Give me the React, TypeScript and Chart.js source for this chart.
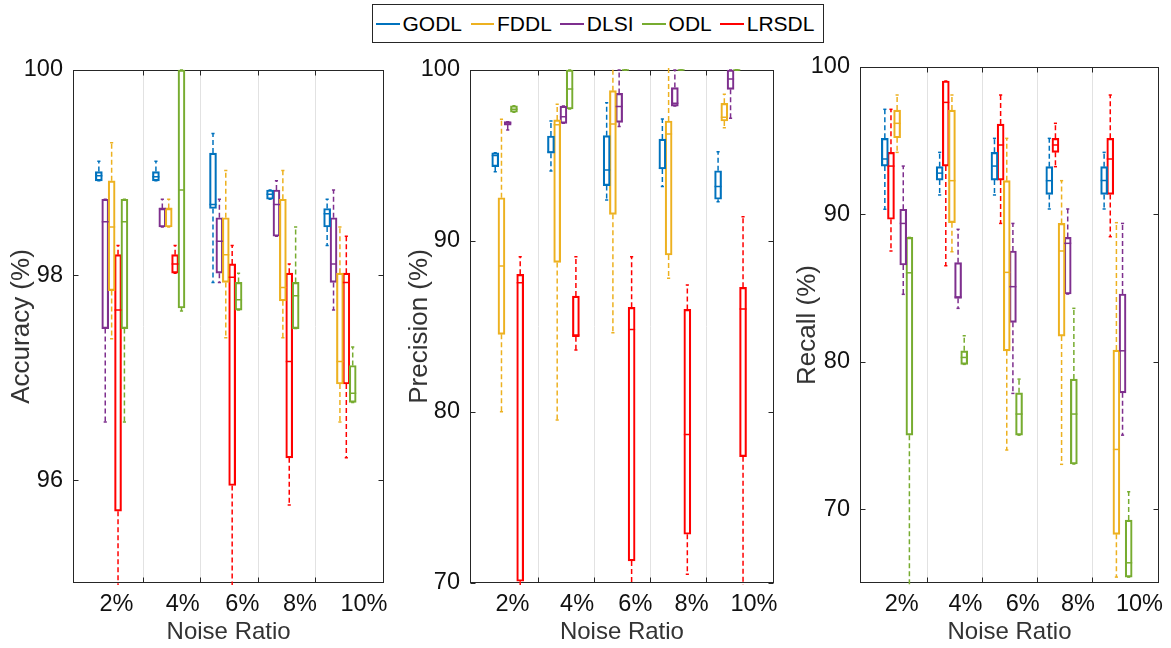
import React, { useEffect, useRef } from 'react';
import { Chart, registerables } from 'chart.js';

Chart.register(...registerables);

const FONT = '"Liberation Sans", Arial, Helvetica, sans-serif';

const methods = ['GODL', 'FDDL', 'DLSI', 'ODL', 'LRSDL'];
const colors = ['#0072BD', '#EDB120', '#7E2F8E', '#77AC30', '#FF0000'];
const noiseLabels = ['2%', '4%', '6%', '8%', '10%'];
const groupPositions = [1, 2, 3, 4, 5];
const labelPositions = [1.085, 2.245, 3.29, 4.3, 5.42];
const separatorPositions = [1.549, 2.553, 3.557, 4.555];
const xMin = 0.323;
const xMax = 5.777;
const slotStep = 0.112;

// each entry: [lower whisker, q1, median, q3, upper whisker]
const accGODL = [[98.92, 98.92, 98.97, 99.01, 99.11], [98.92, 98.92, 98.96, 99.01, 99.11], [97.93, 98.65, 98.69, 99.19, 99.38], [98.74, 98.74, 98.79, 98.83, 98.83], [98.29, 98.47, 98.6, 98.65, 98.74]];
const accFDDL = [[97.38, 97.85, 98.47, 98.92, 99.29], [98.47, 98.47, 98.65, 98.65, 98.74], [97.39, 97.93, 98.2, 98.56, 99.02], [97.39, 97.75, 97.88, 98.74, 99.02], [96.57, 96.94, 97.16, 98.02, 98.47]];
const accDLSI = [[96.57, 97.48, 98.52, 98.74, 98.74], [98.47, 98.47, 98.65, 98.65, 98.74], [97.93, 98.02, 98.33, 98.56, 98.74], [98.38, 98.38, 98.69, 98.83, 98.92], [97.66, 97.93, 98.11, 98.56, 98.83]];
const accODL = [[96.57, 97.48, 98.52, 98.74, 98.74], [97.65, 97.68, 98.83, 100, 100], [97.66, 97.66, 97.76, 97.93, 98.02], [97.48, 97.48, 97.8, 97.93, 98.47], [96.76, 96.76, 96.85, 97.12, 97.3]];
const accLRSDL = [[94.0, 95.7, 97.66, 98.2, 98.29], [98.02, 98.02, 98.11, 98.2, 98.29], [94.0, 95.95, 97.98, 98.11, 98.29], [95.76, 96.22, 97.16, 98.02, 98.11], [96.22, 96.94, 97.93, 98.02, 98.38]];

const preGODL = [[94.05, 94.35, 95.0, 95.16, 95.16], [94.09, 95.13, 95.2, 96.14, 97.02], [92.4, 93.24, 94.15, 96.16, 98.09], [93.18, 94.21, 94.25, 95.96, 97.13], [92.3, 92.44, 93.18, 94.11, 95.22]];
const preFDDL = [[80.02, 84.54, 88.54, 92.53, 97.12], [79.53, 88.75, 96.8, 97.08, 97.99], [84.64, 91.56, 96.84, 98.79, 101], [87.82, 89.18, 96.26, 97.02, 101], [96.63, 97.02, 97.23, 98.05, 98.58]];
const preDLSI = [[96.49, 96.78, 96.9, 96.98, 96.98], [96.88, 96.88, 97.27, 97.89, 97.89], [96.69, 96.94, 97.86, 98.63, 100], [97.89, 97.89, 98.05, 98.97, 100], [97.18, 98.87, 99.47, 100, 100]];
const preODL = [[97.53, 97.53, 97.7, 97.91, 97.91], [97.72, 97.72, 98.89, 100, 100], [100, 100, 100, 100, 100], [100, 100, 100, 100, 100], [100, 100, 100, 100, 100]];
const preLRSDL = [[65, 70.1, 87.56, 88.05, 89.08], [83.63, 84.4, 84.5, 86.78, 89.08], [65, 71.29, 84.83, 86.12, 89.08], [70.51, 72.85, 78.69, 86.0, 87.43], [65, 77.39, 86.02, 87.29, 91.42]];

const recGODL = [[90.35, 93.28, 93.76, 95.16, 97.13], [91.32, 92.33, 92.8, 93.24, 94.21], [91.32, 92.33, 93.28, 94.21, 95.16], [90.37, 91.36, 92.29, 93.24, 95.16], [90.37, 91.36, 92.3, 93.24, 94.21]];
const recFDDL = [[94.21, 95.2, 96.18, 97.08, 98.1], [87.47, 89.44, 92.29, 97.08, 98.1], [74.02, 80.75, 86.07, 92.29, 95.16], [73.05, 81.75, 87.52, 89.39, 92.29], [65.4, 68.3, 74.06, 80.8, 89.44]];
const recDLSI = [[84.58, 86.57, 89.39, 90.35, 93.28], [83.63, 84.31, 84.4, 86.73, 88.99], [77.86, 82.68, 85.1, 87.52, 89.39], [84.6, 84.6, 88.04, 88.44, 90.37], [75.03, 77.9, 80.75, 84.6, 89.39]];
const recODL = [[60, 75.03, 86.04, 88.44, 88.44], [79.83, 79.83, 80.3, 80.75, 81.77], [75.03, 75.03, 76.46, 77.9, 78.83], [73.07, 73.07, 76.46, 78.83, 83.63], [65.4, 65.4, 66.37, 69.27, 71.19]];
const recLRSDL = [[87.52, 89.67, 93.28, 94.21, 97.13], [86.52, 93.28, 97.6, 99.05, 99.05], [89.39, 92.33, 94.71, 96.13, 98.1], [93.24, 94.21, 94.71, 95.16, 96.18], [88.49, 91.36, 93.76, 95.16, 98.1]];

// slot order of methods inside a group (GODL, FDDL, DLSI, ODL, LRSDL)
const accSlots = [-2, 0, -1, 2, 1];
const preSlots = [-2, -1, 0, 1, 2];
const recSlots = [-2, 0, 1, 2, -1];

const accTicks = [96, 98, 100];
const preTicks = [70, 80, 90, 100];
const recTicks = [70, 80, 90, 100];

type Panel = {
  left: number; width: number; top: number; yWidth: number; right: number;
  yMin: number; yMax: number; yTicks: number[]; title: string; titlePad: number;
  stats: number[][][]; slots: number[];
};

const panels: Panel[] = [
  { left: 0, width: 395, top: 70, yWidth: 73, right: 9, yMin: 95, yMax: 100, yTicks: accTicks, title: 'Accuracy (%)', titlePad: 6.4, stats: [accGODL, accFDDL, accDLSI, accODL, accLRSDL], slots: accSlots },
  { left: 395, width: 390, top: 70, yWidth: 75, right: 8, yMin: 70, yMax: 100, yTicks: preTicks, title: 'Precision (%)', titlePad: 9.4, stats: [preGODL, preFDDL, preDLSI, preODL, preLRSDL], slots: preSlots },
  { left: 785, width: 386, top: 67, yWidth: 75, right: 12, yMin: 65, yMax: 100, yTicks: recTicks, title: 'Recall (%)', titlePad: 7.4, stats: [recGODL, recFDDL, recDLSI, recODL, recLRSDL], slots: recSlots },
];

const decorPlugin = {
  id: 'boxDecor',
  beforeDatasetsDraw(chart: any) {
    const { ctx, chartArea: a, scales } = chart;
    const x = scales.x, y = scales.y;
    ctx.save();
    // separators
    ctx.strokeStyle = '#E2E2E2';
    ctx.lineWidth = 1;
    separatorPositions.forEach((v) => {
      const px = Math.round(x.getPixelForValue(v)) + 0.5;
      ctx.beginPath(); ctx.moveTo(px, a.top); ctx.lineTo(px, a.bottom); ctx.stroke();
    });
    // frame
    ctx.strokeStyle = '#262626';
    const l = Math.round(a.left) + 0.5, r = Math.round(a.right) - 0.5;
    const t = Math.round(a.top) + 0.5, b = Math.round(a.bottom) - 0.5;
    ctx.strokeRect(l, t, r - l, b - t);
    // x ticks (inward, top and bottom)
    const tl = 5;
    separatorPositions.forEach((v) => {
      const px = Math.round(x.getPixelForValue(v)) + 0.5;
      ctx.beginPath(); ctx.moveTo(px, b); ctx.lineTo(px, b - tl); ctx.stroke();
      ctx.beginPath(); ctx.moveTo(px, t); ctx.lineTo(px, t + tl); ctx.stroke();
    });
    // y ticks (inward, left and right)
    chart.options.scales.y._ticks.forEach((v: number) => {
      const py = Math.round(y.getPixelForValue(v)) + 0.5;
      ctx.beginPath(); ctx.moveTo(l, py); ctx.lineTo(l + tl, py); ctx.stroke();
      ctx.beginPath(); ctx.moveTo(r, py); ctx.lineTo(r - tl, py); ctx.stroke();
    });
    ctx.restore();
  },
  afterDatasetsDraw(chart: any) {
    const { ctx, chartArea: a, scales } = chart;
    const y = scales.y;
    ctx.save();
    ctx.beginPath();
    ctx.rect(a.left - 2, a.top - 2, a.right - a.left + 4, a.bottom - a.top + 4);
    ctx.clip();
    chart.data.datasets.forEach((ds: any, i: number) => {
      const meta = chart.getDatasetMeta(i);
      ctx.strokeStyle = ds.borderColor;
      ctx.lineWidth = 1.5;
      meta.data.forEach((el: any, j: number) => {
        const s = ds.stats[j];
        const cx = el.x;
        const half = el.width / 2;
        const pLow = y.getPixelForValue(s[0]);
        const pQ1 = y.getPixelForValue(s[1]);
        const pMed = y.getPixelForValue(s[2]);
        const pQ3 = y.getPixelForValue(s[3]);
        const pHigh = y.getPixelForValue(s[4]);
        // median
        ctx.setLineDash([]);
        ctx.beginPath(); ctx.moveTo(cx - half, pMed); ctx.lineTo(cx + half, pMed); ctx.stroke();
        // whiskers
        ctx.setLineDash([5, 3]);
        if (pHigh < pQ3 - 0.5) {
          ctx.beginPath(); ctx.moveTo(cx, pQ3); ctx.lineTo(cx, pHigh); ctx.stroke();
        }
        if (pLow > pQ1 + 0.5) {
          ctx.beginPath(); ctx.moveTo(cx, pQ1); ctx.lineTo(cx, pLow); ctx.stroke();
        }
        ctx.setLineDash([]);
        const cap = half * 0.45;
        ctx.beginPath(); ctx.moveTo(cx - cap, pHigh); ctx.lineTo(cx + cap, pHigh); ctx.stroke();
        ctx.beginPath(); ctx.moveTo(cx - cap, pLow); ctx.lineTo(cx + cap, pLow); ctx.stroke();
      });
    });
    ctx.restore();
  },
};

function PanelChart({ p }: { p: Panel }) {
  const ref = useRef<HTMLCanvasElement | null>(null);
  useEffect(() => {
    if (!ref.current) return;
    const datasets = methods.map((m, mi) => ({
      label: m,
      type: 'bar' as const,
      data: groupPositions.map((g, gi) => ({ x: g + p.slots[mi] * slotStep, y: [p.stats[mi][gi][1], p.stats[mi][gi][3]] })),
      stats: p.stats[mi],
      backgroundColor: 'rgba(255,255,255,0)',
      borderColor: colors[mi],
      borderWidth: 1.5,
      borderSkipped: false,
      barThickness: 7,
      grouped: false,
      clip: 3,
    }));
    const chart = new Chart(ref.current, {
      type: 'bar',
      data: { datasets: datasets as any },
      plugins: [decorPlugin],
      options: {
        responsive: false,
        animation: false,
        devicePixelRatio: 1,
        layout: { padding: { top: p.top, right: p.right, left: 0, bottom: 0 } },
        plugins: { legend: { display: false }, tooltip: { enabled: false } },
        events: [],
        scales: {
          x: {
            type: 'linear',
            min: xMin,
            max: xMax,
            offset: false,
            grid: { display: false, drawTicks: false },
            border: { display: false },
            afterBuildTicks: (s: any) => { s.ticks = labelPositions.map((v) => ({ value: v })); },
            afterFit: (s: any) => { s.height = 65; },
            ticks: {
              autoSkip: false, maxRotation: 0, minRotation: 0, padding: 7,
              font: { family: FONT, size: 23.5 }, color: '#111',
              callback: (_v: any, i: number) => noiseLabels[i],
            },
            title: { display: true, text: 'Noise Ratio', font: { family: FONT, size: 24 }, color: '#333', padding: { top: 0, bottom: 1 } },
          },
          y: {
            type: 'linear',
            min: p.yMin,
            max: p.yMax,
            _ticks: p.yTicks,
            grid: { display: false, drawTicks: false },
            border: { display: false },
            afterBuildTicks: (s: any) => { s.ticks = p.yTicks.map((v) => ({ value: v })); },
            afterFit: (s: any) => { s.width = p.yWidth; },
            ticks: { padding: 10, font: { family: FONT, size: 23.5 }, color: '#111', callback: (v: any) => String(v) },
            title: { display: true, text: p.title, font: { family: FONT, size: 26 }, color: '#333', padding: { top: p.titlePad, bottom: 0 } },
          } as any,
        },
      } as any,
    });
    return () => chart.destroy();
  }, [p]);
  return (
    <canvas
      ref={ref}
      width={p.width}
      height={648}
      style={{ position: 'absolute', left: p.left, top: 0, width: p.width, height: 648 }}
    />
  );
}

export default function App() {
  return (
    <div style={{ position: 'absolute', left: 0, top: 0, width: 1171, height: 648, background: '#fff', overflow: 'hidden' }}>
      {panels.map((p, i) => <PanelChart key={i} p={p} />)}
      <div
        style={{
          position: 'absolute', left: 372, top: 4, width: 452, height: 39, boxSizing: 'border-box',
          border: '1px solid #262626', background: '#fff', display: 'flex', alignItems: 'center',
          paddingLeft: 3, fontFamily: FONT, fontSize: 21, color: '#000', whiteSpace: 'nowrap',
        }}
      >
        {methods.map((m, i) => (
          <div key={m} style={{ display: 'flex', alignItems: 'center', marginRight: 8.5 }}>
            <span style={{ display: 'inline-block', width: 23.5, height: 2, background: colors[i], marginRight: 3 }} />
            <span>{m}</span>
          </div>
        ))}
      </div>
    </div>
  );
}
